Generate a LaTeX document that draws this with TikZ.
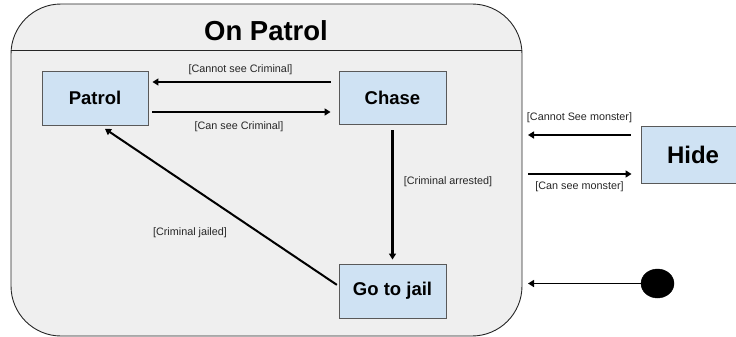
\documentclass[tikz,border=0pt]{standalone}
\usepackage{fontspec}
\setmainfont{Liberation Sans}
\usetikzlibrary{arrows.meta,shapes.geometric}
\definecolor{statefill}{HTML}{CFE2F3}
\definecolor{stateline}{HTML}{595959}
\definecolor{groupfill}{HTML}{EFEFEF}
\definecolor{labelcol}{HTML}{262626}
\tikzset{
  state/.style={draw=stateline, fill=statefill, line width=0.9pt, inner sep=0pt,
    font=\fontsize{18.5}{20}\selectfont\bfseries},
  guard/.style={font=\fontsize{10.8}{12}\selectfont, text=labelcol, inner sep=0pt},
  arr/.style={line width=2.2pt, -{Triangle[length=6pt,width=7pt]}},
}
\begin{document}
\begin{tikzpicture}[x=1pt,y=-1pt]
\useasboundingbox (0,0) rectangle (736,337);

% composite state
\draw[fill=groupfill, draw=black!85, line width=0.9pt, rounded corners=50pt]
  (11,4) rectangle (522,336);
\coordinate (sepL) at (11,50);
\coordinate (sepR) at (522,50);
\draw[black!85, line width=0.9pt] (sepL) -- (sepR);
\node[font=\fontsize{27.5}{30}\selectfont\bfseries] (title) at (266,31) {On Patrol};

% states
\node[state, minimum width=106pt, minimum height=54pt] (patrol) at (95,98) {Patrol};
\node[state, minimum width=107pt, minimum height=53pt] (chase) at (392.5,97.5) {Chase};
\node[state, minimum width=107pt, minimum height=54pt] (jail) at (392.5,291) {Go to jail};
\node[state, minimum width=100pt, minimum height=57pt,
  font=\fontsize{24}{26}\selectfont\bfseries] (hide) at (691,154.5) {\hspace*{4pt}Hide};
\node[draw, fill=black, ellipse, minimum width=33pt, minimum height=29pt, inner sep=0pt]
  (init) at (657.5,283.5) {};

% attach points on the composite border
\coordinate (edgeA) at (522,135);
\coordinate (edgeB) at (522,174);
\coordinate (edgeC) at (522,283.5);

% transitions inside
\draw[arr, shorten <=8pt, shorten >=4pt]
  ([yshift=15.5pt]chase.west) -- ([yshift=16pt]patrol.east);
\draw[arr, shorten <=4pt, shorten >=8pt]
  ([yshift=-14pt]patrol.east) -- ([yshift=-14.5pt]chase.west);
\draw[arr, shorten <=6pt, shorten >=4pt] (chase.south) -- (jail.north);
\draw[arr, line width=2pt, shorten <=2pt, shorten >=6pt]
  ([yshift=5pt]jail.west) -- ([xshift=5pt]patrol.south);

% transitions to and from the outside
\draw[arr, shorten <=10pt, shorten >=6pt] (hide.west |- edgeA) -- (edgeA);
\draw[arr, shorten <=6pt, shorten >=9pt] (edgeB) -- (hide.west |- edgeB);
\draw[arr, line width=1.8pt, shorten >=6pt] (init.west) -- (edgeC);

% guards
\node[guard] (g1) at (240.5,70) {[Cannot see Criminal]};
\node[guard] (g2) at (239,127) {[Can see Criminal]};
\node[guard] (g3) at (448,182) {[Criminal arrested]};
\node[guard] (g4) at (190,233) {[Criminal jailed]};
\node[guard] (g5) at (579.5,118) {[Cannot See monster]};
\node[guard] (g6) at (579.5,187) {[Can see monster]};
\end{tikzpicture}
\end{document}
